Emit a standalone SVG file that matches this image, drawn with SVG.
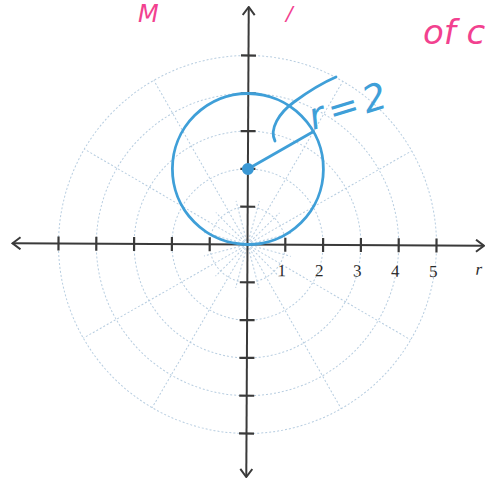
<svg xmlns="http://www.w3.org/2000/svg" width="487" height="480" viewBox="0 0 487 480">
<style>
.grid{fill:none;stroke:#b7cde0;stroke-width:1;stroke-dasharray:2 2}
.axis{stroke:#3a3a3a;stroke-width:2;fill:none}
.tick{stroke:#3a3a3a;stroke-width:2.2}
.num{font-family:"Liberation Serif",serif;font-size:17px;fill:#2a2a2a;text-anchor:middle}
.blue{stroke:#3f9fd8;fill:none;stroke-width:2.8;stroke-linecap:round;stroke-linejoin:round}
.hand{font-family:"DejaVu Sans",sans-serif;font-style:italic}
.pink{fill:#f2418f}
</style>
<defs>
<marker id="arr" viewBox="0 0 10 14" refX="9" refY="7" markerWidth="10" markerHeight="14" markerUnits="userSpaceOnUse" orient="auto-start-reverse">
<path d="M1,1 L9,7 L1,13" fill="none" stroke="#3a3a3a" stroke-width="2"/>
</marker>
</defs>
<rect width="487" height="480" fill="#ffffff"/>
<g id="plot" transform="translate(247.5,244.5) rotate(0.3)">
<g id="grid">
<circle class="grid" r="37.8"/>
<circle class="grid" r="75.6"/>
<circle class="grid" r="113.4"/>
<circle class="grid" r="151.2"/>
<circle class="grid" r="189"/>
<line class="grid" x2="189" transform="rotate(-30)"/>
<line class="grid" x2="189" transform="rotate(-60)"/>
<line class="grid" x2="189" transform="rotate(-120)"/>
<line class="grid" x2="189" transform="rotate(-150)"/>
<line class="grid" x2="189" transform="rotate(30)"/>
<line class="grid" x2="189" transform="rotate(60)"/>
<line class="grid" x2="189" transform="rotate(120)"/>
<line class="grid" x2="189" transform="rotate(150)"/>
<line class="grid" x2="45" transform="rotate(-15)"/>
<line class="grid" x2="45" transform="rotate(-45)"/>
<line class="grid" x2="45" transform="rotate(-75)"/>
<line class="grid" x2="45" transform="rotate(-105)"/>
<line class="grid" x2="45" transform="rotate(-135)"/>
<line class="grid" x2="45" transform="rotate(-165)"/>
<line class="grid" x2="45" transform="rotate(15)"/>
<line class="grid" x2="45" transform="rotate(45)"/>
<line class="grid" x2="45" transform="rotate(75)"/>
<line class="grid" x2="45" transform="rotate(105)"/>
<line class="grid" x2="45" transform="rotate(135)"/>
<line class="grid" x2="45" transform="rotate(165)"/>
</g>
<g id="axes">
<line class="axis" x1="-235" y1="0" x2="236.5" y2="0" marker-start="url(#arr)" marker-end="url(#arr)"/>
<line class="axis" x1="0" y1="-237.5" x2="0" y2="232.5" marker-start="url(#arr)" marker-end="url(#arr)"/>
<path class="tick" d="M37.8,-7V7M75.6,-7V7M113.4,-7V7M151.2,-7V7M189,-7V7M-37.8,-7V7M-75.6,-7V7M-113.4,-7V7M-151.2,-7V7M-189,-7V7"/>
<path class="tick" d="M-7.5,37.8H7.5M-7.5,75.6H7.5M-7.5,113.4H7.5M-7.5,151.2H7.5M-7.5,189H7.5M-7.5,-37.8H7.5M-7.5,-75.6H7.5M-7.5,-113.4H7.5M-7.5,-151.2H7.5M-7.5,-189H7.5"/>
</g>
<g id="labels">
<text class="num" x="34.5" y="31.5">1</text>
<text class="num" x="72" y="31.5">2</text>
<text class="num" x="110" y="31.5">3</text>
<text class="num" x="148" y="31.5">4</text>
<text class="num" x="186" y="31.5">5</text>
<text class="num" x="231.5" y="29" font-style="italic">r</text>
</g>
<g id="circle">
<circle class="blue" cx="0" cy="-75.5" r="75.5"/>
<line class="blue" x1="0" y1="-75.5" x2="65.4" y2="-113.3"/>
<circle cx="0" cy="-75.5" r="6" fill="#3a98d4"/>
</g>
</g>
<g id="annotation">
<path class="blue" stroke-width="3.2" d="M275,141 C269,129 279,113 294,102 C309,91 322,83 336,77"/>
<text class="hand" x="313" y="130" font-size="37" fill="#3f9fd8" letter-spacing="5" transform="rotate(-17,313,130)">r=2</text>
</g>
<g id="pink-notes">
<text class="hand pink" x="138" y="22" font-size="24">M</text>
<text class="hand pink" x="286" y="20" font-size="20">/</text>
<text class="hand pink" x="423" y="44" font-size="34">of c</text>
</g>
</svg>
